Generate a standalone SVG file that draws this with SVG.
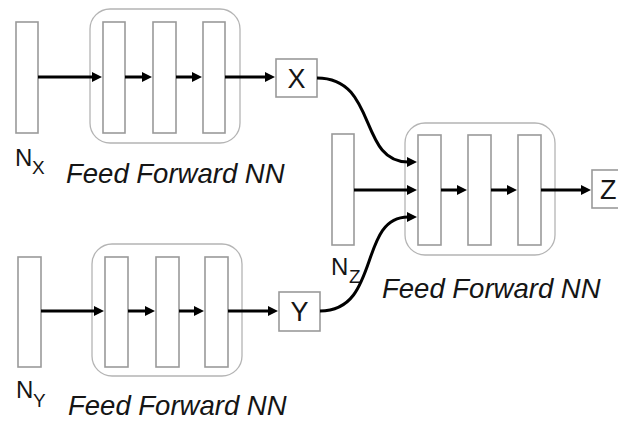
<svg xmlns="http://www.w3.org/2000/svg" width="618" height="421" viewBox="0 0 618 421">
<defs>
<style>
.bar{fill:#fff;stroke:#9a9a9a;stroke-width:1.6}
.grp{fill:none;stroke:#b4b4b4;stroke-width:1.3}
.box{fill:#fff;stroke:#9a9a9a;stroke-width:1.6}
.ln{fill:none;stroke:#000;stroke-width:3;marker-end:url(#ah)}
.t{font-family:"Liberation Sans",Arial,sans-serif;fill:#151515}
.lbl{font-size:27.5px;font-style:italic}
.big{font-size:24px}
.sub{font-size:19px}
.ch{font-size:27px;text-anchor:middle}
</style>
<marker id="ah" viewBox="0 0 10 10" markerWidth="11" markerHeight="10" markerUnits="userSpaceOnUse" refX="1" refY="5" orient="auto">
<path d="M0,0 L10,5 L0,10 z" fill="#000"/>
</marker>
</defs>
<rect width="618" height="421" fill="#fff"/>

<g id="ffnn-x">
<rect class="grp" x="90" y="9" width="150" height="134" rx="20"/>
<rect class="bar" x="103" y="22" width="22" height="111"/>
<rect class="bar" x="153" y="22" width="23" height="111"/>
<rect class="bar" x="203" y="22" width="22" height="111"/>
<text class="t lbl" x="66" y="183">Feed Forward NN</text>
</g>
<g id="nx">
<rect class="bar" x="16" y="22" width="22" height="111"/>
<text class="t big" x="15" y="166">N</text><text class="t sub" x="32" y="174">X</text>
</g>
<g id="x">
<rect class="box" x="276" y="59" width="41" height="38"/>
<text class="t ch" x="296.5" y="88">X</text>
</g>

<g id="ffnn-y">
<rect class="grp" x="92" y="244" width="150" height="132" rx="20"/>
<rect class="bar" x="105" y="257" width="23" height="110"/>
<rect class="bar" x="156" y="257" width="23" height="110"/>
<rect class="bar" x="205" y="257" width="23" height="110"/>
<text class="t lbl" x="68" y="415">Feed Forward NN</text>
</g>
<g id="ny">
<rect class="bar" x="18" y="257" width="23" height="110"/>
<text class="t big" x="16" y="398">N</text><text class="t sub" x="33" y="407">Y</text>
</g>
<g id="y">
<rect class="box" x="279" y="292" width="41" height="39"/>
<text class="t ch" x="299.5" y="321">Y</text>
</g>

<g id="ffnn-z">
<rect class="grp" x="405" y="123" width="150" height="132" rx="20"/>
<rect class="bar" x="418" y="135" width="23" height="110"/>
<rect class="bar" x="468" y="135" width="23" height="110"/>
<rect class="bar" x="518" y="135" width="23" height="110"/>
<text class="t lbl" x="382" y="298">Feed Forward NN</text>
</g>
<g id="nz">
<rect class="bar" x="332" y="134" width="22" height="111"/>
<text class="t big" x="331" y="275">N</text><text class="t sub" x="349" y="283">Z</text>
</g>
<g id="z">
<rect class="box" x="592" y="170" width="41" height="38"/>
<text class="t" font-size="27" x="600" y="199">Z</text>
</g>

<g id="connectors">
<path class="ln" d="M38,77 H93"/>
<path class="ln" d="M125,77 H143"/>
<path class="ln" d="M176,77 H193"/>
<path class="ln" d="M225,77 H266"/>
<path class="ln" d="M41,311 H95"/>
<path class="ln" d="M128,311 H146"/>
<path class="ln" d="M179,311 H195"/>
<path class="ln" d="M228,311 H269"/>
<path class="ln" d="M354,190 H408"/>
<path class="ln" d="M441,190 H458"/>
<path class="ln" d="M491,190 H508"/>
<path class="ln" d="M541,190 H582"/>
<path class="ln" d="M317,78 C378,78 358,162 408,162"/>
<path class="ln" d="M320,311 C381,311 358,217 408,217"/>
</g>
</svg>
